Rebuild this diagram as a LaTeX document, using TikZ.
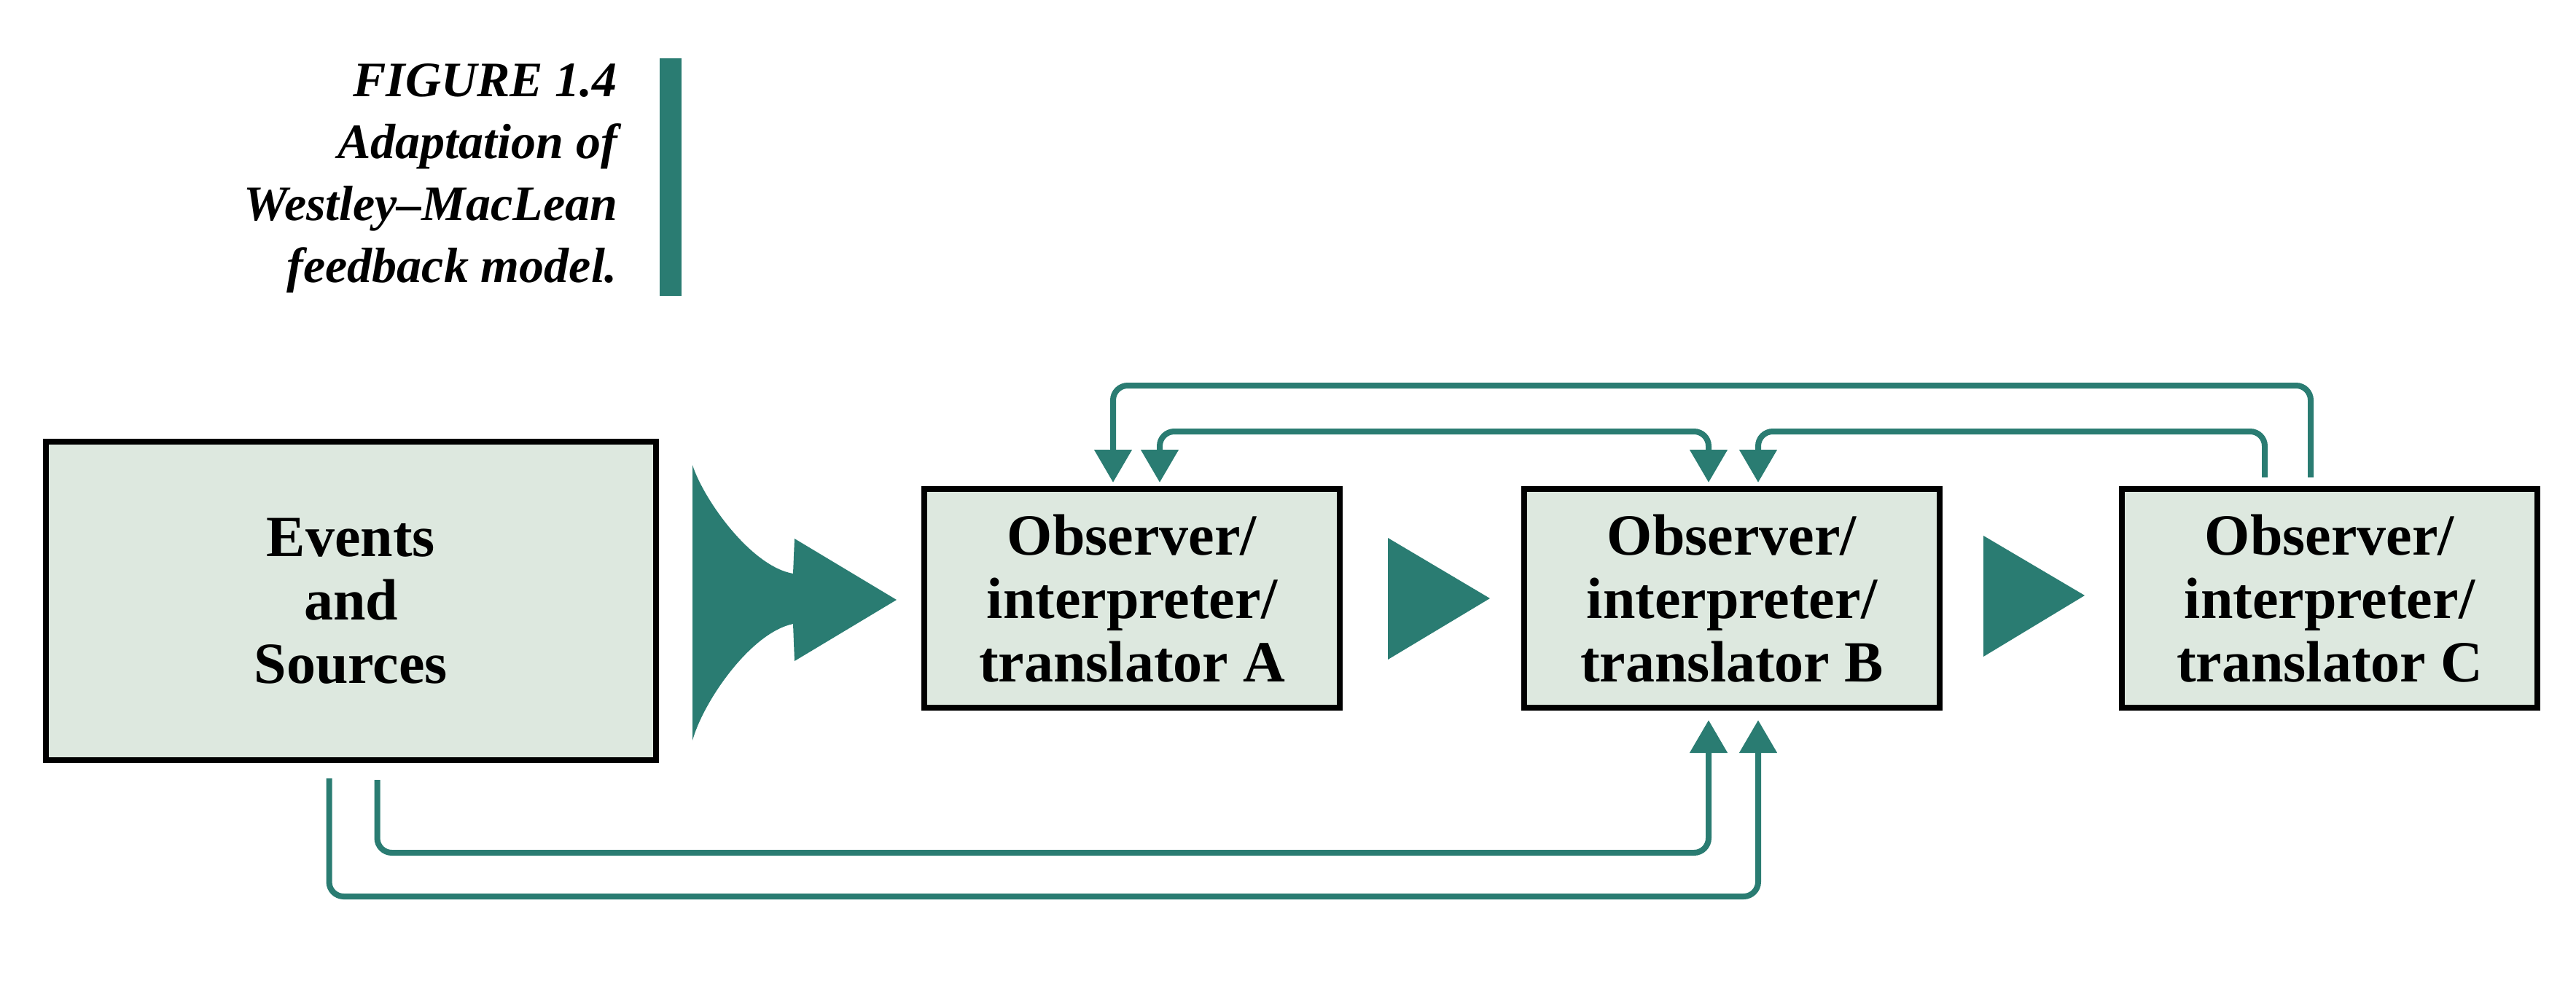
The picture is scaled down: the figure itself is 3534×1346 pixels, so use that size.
\documentclass[tikz,border=0pt]{standalone}
\usepackage{fontspec}
\setmainfont{Liberation Serif}
\usetikzlibrary{arrows.meta,calc}

\definecolor{fbteal}{RGB}{42,124,114}
\definecolor{boxfill}{RGB}{221,232,223}

\begin{document}
\begin{tikzpicture}[x=0.2pt,y=0.2pt,yscale=-1,xscale=1,
  box/.style={draw=black,line width=1.6pt,fill=boxfill,outer sep=0pt,inner sep=0pt,align=center,font=\fontsize{16pt}{17.4pt}\selectfont\bfseries},
  obsbox/.style={box,minimum width=114pt,minimum height=60pt},
  fbline/.style={draw=fbteal,line width=1.6pt,rounded corners=4pt},
  fbtip/.style={-{Triangle[width=10pt,length=9pt]}}]
\useasboundingbox (0,0) rectangle (3534,1346);

% Text Node
\node (cap) at (848,86) [anchor=north east,inner sep=0pt,align=right,font=\fontsize{13.6pt}{17pt}\selectfont\bfseries\itshape] {FIGURE 1.4\\Adaptation of\\Westley–MacLean\\feedback model.};
%Shape: Rectangle
\fill [fbteal] (905,80) rectangle (935,406);

% Text Node
\node (src) at (481.5,824.5) [box,minimum width=167.4pt,minimum height=87.4pt] {Events\\and\\Sources};
\node (obsA) at (1553,821) [obsbox] {Observer/\\interpreter/\\translator A};
\node (obsB) at (2376,821) [obsbox] {Observer/\\interpreter/\\translator B};
\node (obsC) at (3196,821) [obsbox] {Observer/\\interpreter/\\translator C};

%Shape: Curved arrow
\fill [fbteal] (950,638) .. controls (965,685) and (1030,777) .. (1088,787) -- (1090,739) -- (1230,823) -- (1090,907) -- (1088,856) .. controls (1030,868) and (965,962) .. (950,1016) -- cycle;
%Shape: Triangle
\fill [fbteal] ($(obsA.east)+(66,-83)$) -- ($(obsA.east)+(206,0)$) -- ($(obsA.east)+(66,84)$) -- cycle;
%Shape: Triangle
\fill [fbteal] ($(obsB.east)+(60,-86)$) -- ($(obsB.east)+(199,-4)$) -- ($(obsB.east)+(60,80)$) -- cycle;

% Feedback lines
\draw [fbline,fbtip] ($(obsC.north)+(-26,-16)$) -- ++(0,-126) -| ($(obsA.north)+(-26,-9)$);
\draw [fbline,fbtip] ($(obsC.north)+(-89,-16)$) -- ++(0,-63) -| ($(obsB.north)+(36,-9)$);
\draw [fbline,{Triangle[width=10pt,length=9pt]}-{Triangle[width=10pt,length=9pt]}] ($(obsA.north)+(38,-9)$) -- ++(0,-70) -| ($(obsB.north)+(-32,-9)$);
\draw [fbline,fbtip] ($(src.south)+(36,27)$) -- ++(0,100) -| ($(obsB.south)+(-32,17)$);
\draw [fbline,fbtip] ($(src.south)+(-30,25)$) -- ++(0,162) -| ($(obsB.south)+(36,17)$);

\end{tikzpicture}
\end{document}
